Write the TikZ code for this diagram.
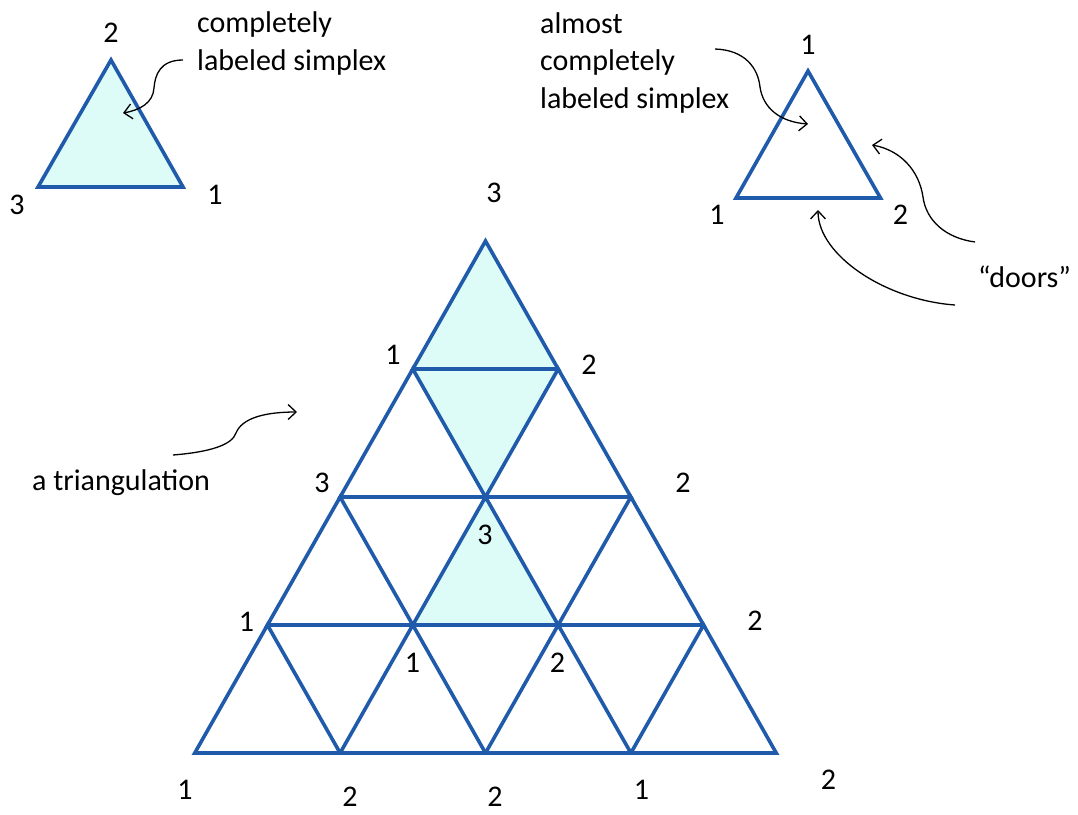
\documentclass[tikz,border=0pt]{standalone}
\usepackage{fontspec}
\setmainfont{Carlito}
\usetikzlibrary{arrows.meta}
\definecolor{spBlue}{RGB}{31,91,170}
\definecolor{spCyan}{RGB}{221,251,247}
\tikzset{
  spedge/.style={draw=spBlue, line width=3.6pt},
  spcell/.style={fill=spCyan},
  splab/.style={inner sep=0pt, font=\fontsize{30}{36}\selectfont},
  sptxt/.style={inner sep=0pt, align=left, anchor=base west,
                font=\fontsize{30}{37.5}\selectfont},
  sparr/.style={draw=black, line width=1.3pt,
                -{Straight Barb[length=8pt,width=15pt]}},
}
\newcommand{\spRow}{128}
\newcommand{\spStep}{145.375}

\begin{document}
\begin{tikzpicture}[x=1pt, y=-1pt]
  \useasboundingbox (0,0) rectangle (1078,814);

  % vertices of the triangulation (row r, column c)
  \foreach \r in {0,...,4}
    \foreach \c in {0,...,\r}
      \coordinate (v\r\c) at ({485.5+\spStep*(\c-\r/2)}, {241+\spRow*\r});

  % shaded cells
  \fill[spcell] (v00) -- (v10) -- (v11) -- cycle;
  \fill[spcell] (v10) -- (v11) -- (v21) -- cycle;
  \fill[spcell] (v21) -- (v31) -- (v32) -- cycle;

  % every upward cell; the downward ones come out of it
  \foreach \r/\p in {1/0,2/1,3/2,4/3}
    \foreach \c in {0,...,\p} {
      \pgfmathtruncatemacro{\cnext}{\c+1}
      \draw[spedge] (v\p\c) -- (v\r\c) -- (v\r\cnext) -- cycle;
    }

  % completely labeled simplex
  \coordinate (a2) at (111,60);
  \coordinate (a3) at (38,187);
  \coordinate (a1) at (183,187);
  \draw[spedge, spcell] (a2) -- (a1) -- (a3) -- cycle;

  % almost completely labeled simplex
  \coordinate (b1) at (808,71);
  \coordinate (b1l) at (736,198);
  \coordinate (b2) at (880.5,198);
  \draw[spedge] (b1) -- (b2) -- (b1l) -- cycle;

  % vertex labels
  \node[splab] (la2) at (111,33) {2};
  \node[splab] (la3) at (17,205) {3};
  \node[splab] (la1) at (215,195) {1};
  \node[splab] (lb1) at (808,45) {1};
  \node[splab] (lb1l) at (717,215) {1};
  \node[splab] (lb2) at (900.5,215) {2};

  \node[splab] (l00) at (494,193) {3};
  \node[splab] (l10) at (393,355) {1};
  \node[splab] (l11) at (589,365) {2};
  \node[splab] (l20) at (322,483) {3};
  \node[splab] (l21) at (485,535) {3};
  \node[splab] (l22) at (683,483) {2};
  \node[splab] (l30) at (246.5,621.5) {1};
  \node[splab] (l31) at (412.5,663) {1};
  \node[splab] (l32) at (557.5,663) {2};
  \node[splab] (l33) at (755,620.5) {2};
  \node[splab] (l40) at (185,790) {1};
  \node[splab] (l41) at (350,797) {2};
  \node[splab] (l42) at (495,797) {2};
  \node[splab] (l43) at (641.5,790) {1};
  \node[splab] (l44) at (828.5,780) {2};

  % notes (anchored on the baseline of their last line)
  \node[sptxt] (tcls) at (197,70) {completely\\labeled simplex};
  \node[sptxt] (tacls) at (540,108) {almost\\completely\\labeled simplex};
  \node[sptxt] (tdoors) at (978,287) {``doors''};
  \node[sptxt] (ttri) at (32,490) {a triangulation};

  % pointers
  \coordinate (pA0) at (183,60);
  \coordinate (pA1) at (123,113);
  \coordinate (pB0) at (715,49);
  \coordinate (pB1) at (808,124);
  \coordinate (pC0) at (975,242);
  \coordinate (pC1) at (872,145);
  \coordinate (pD0) at (955,305);
  \coordinate (pD1) at (818,210);
  \coordinate (pE0) at (173,455);
  \coordinate (pE1) at (297,412);
  \draw[sparr] (pA0) .. controls (160,60) and (155,75) .. (154,88)
                     .. controls (153,103) and (140,110) .. (pA1);
  \draw[sparr] (pB0) .. controls (745,50) and (758,68) .. (760,87)
                     .. controls (763,108) and (780,122) .. (pB1);
  \draw[sparr] (pC0) .. controls (945,238) and (926,220) .. (923,197)
                     .. controls (919,170) and (900,150) .. (pC1);
  \draw[sparr] (pD0) .. controls (885,300) and (818,255) .. (pD1);
  \draw[sparr] (pE0) .. controls (210,452) and (232,445) .. (236,433)
                     .. controls (242,418) and (265,412) .. (pE1);
\end{tikzpicture}
\end{document}
